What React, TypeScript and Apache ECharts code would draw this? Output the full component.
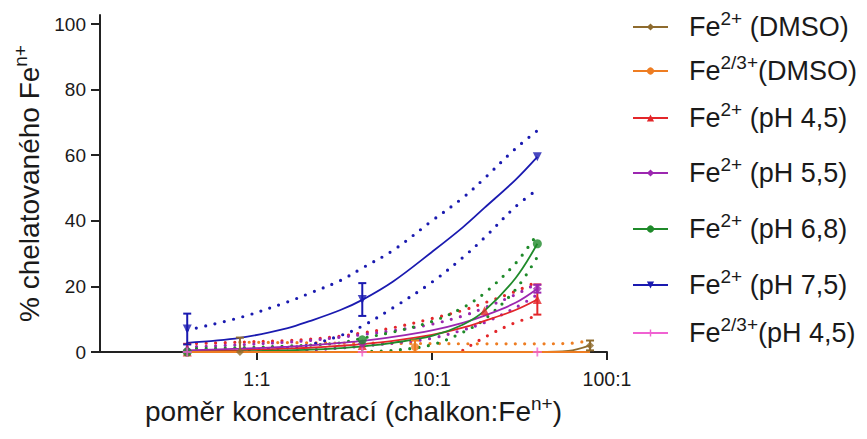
import React, { useEffect, useRef } from 'react';
import * as echarts from 'echarts';

const FONT = '"Liberation Sans", Arial, Helvetica, sans-serif';
const TXT = '#1a1a1a';

const seriesNames = ['Fe2+ (DMSO)', 'Fe2/3+(DMSO)', 'Fe2+ (pH 4,5)', 'Fe2+ (pH 5,5)', 'Fe2+ (pH 6,8)', 'Fe2+ (pH 7,5)', 'Fe2/3+(pH 4,5)'];
const nameSup = ['2+', '2/3+', '2+', '2+', '2+', '2+', '2/3+'];
const nameTail = [' (DMSO)', '(DMSO)', ' (pH 4,5)', ' (pH 5,5)', ' (pH 6,8)', ' (pH 7,5)', '(pH 4,5)'];
const colors = ['#8E6B2E', '#EE7D22', '#E3262A', '#9C27B0', '#1F8A2A', '#1A1AB0', '#F062D2'];
const symbols = ['diamond', 'circle', 'triangle', 'diamond', 'circle', 'triangle', 'path://M4,0h2v4h4v2h-4v4h-2v-4h-4v-2h4z'];
const symbolRot = [0, 0, 0, 0, 0, 180, 0];
const legendIconY = [27, 71, 118, 173, 229, 285, 333];

const xTicks = [1, 10, 100];
const xTickLabels = ['1:1', '10:1', '100:1'];
const yTicks = [0, 20, 40, 60, 80, 100];

// fitted curves & 95% bands (pH series)
const fitX = [0.4, 0.8, 1.5, 2, 3, 4, 6, 10, 15, 20, 30, 40];
const redFit = [0.3, 0.6, 1, 1.3, 1.9, 2.4, 3.4, 5.2, 7.4, 9.5, 12.8, 16];
const redUpper = [2.5, 3, 3.5, 3.9, 4.8, 5.8, 7.4, 10.2, 12.7, 15, 18.5, 21.5];
const redLower = [null, null, null, null, null, null, null, null, 0.5, 4.5, 9, 11];
const purpleFit = [0.5, 1, 1.6, 2, 2.8, 3.4, 4.6, 6.6, 8.9, 11.1, 15, 19.3];
const purpleUpper = [1.5, 2.2, 3, 3.5, 4.5, 5.3, 6.5, 8.5, 11, 13.5, 17.5, 21];
const purpleLower = [null, null, 0.3, 0.6, 1.2, 1.8, 2.7, 4.2, 6.7, 9, 13.5, 17.5];
const greenFit = [0, 0.2, 0.5, 0.7, 1.2, 1.7, 2.8, 4.9, 8.3, 12.6, 22.5, 33];
const greenUpper = [1, 1.3, 1.8, 2.1, 2.8, 4.2, 6.1, 9.3, 13.5, 18, 27, 36];
const greenLower = [null, null, null, null, null, 0.1, 0.5, 2.2, 6, 10, 19, 29];
const blueFit = [2.8, 4.3, 7.3, 9.4, 12.8, 15.9, 21.5, 30.5, 38, 44, 52.5, 59.5];
const blueUpper = [6.7, 10.5, 15.3, 17.9, 21.8, 25.6, 31, 40, 47, 53, 62, 67.5];
const blueLower = [null, 0.6, 1.3, 2.2, 5, 7.9, 13.5, 21.3, 28.8, 34.9, 44.3, 49.5];
const pinkFit = [0, 0, 0, 0, 0, 0, 0, 0, 0, 0, 0, 0];

// DMSO series
const dmsoX = [0.4, 0.8, 2, 4, 8, 20, 40, 60, 80];
const orangeFit = [0, 0, 0, 0, 0, 0, 0, 0, 0];
const orangeUpper = [null, 3, 2.8, 2.7, 2.6, 2.5, 2.5, 2.6, 3.5];
const brownFit = [null, 0, 0, 0, 0, 0, 0, 0.3, 2];

// measured points [x], [y], [error]
const brownPtX = [0.8, 80];
const brownPtY = [0, 2];
const brownPtE = [4.4, 1.5];
const orangePtX = [8];
const orangePtY = [1.5];
const orangePtE = [2];
const redPtX = [0.4, 4, 20, 40];
const redPtY = [0, 2, 12.6, 16];
const redPtE = [2.5, 0, 0, 4.6];
const purplePtX = [0.4, 4, 40];
const purplePtY = [0.5, 2.5, 19.3];
const purplePtE = [0, 0, 1.2];
const greenPtX = [0.4, 4, 40];
const greenPtY = [0, 3.7, 33];
const greenPtE = [0, 0, 0];
const bluePtX = [0.4, 4, 40];
const bluePtY = [7, 16, 59.5];
const bluePtE = [4.7, 5, 0];
const pinkPtX = [0.4, 4, 40];
const pinkPtY = [0, 0, 0];
const pinkPtE = [0, 0, 0];

const zip = (xs: number[], ys: (number | null)[]) => xs.map((x, k) => [x, ys[k]]);

function bandSeries(name: string, color: string, xs: number[], ys: (number | null)[]) {
  return {
    type: 'line', name, data: zip(xs, ys), smooth: 0.35, symbol: 'none', silent: true, z: 2,
    connectNulls: false,
    lineStyle: { color, width: 3.2, type: [0, 9.5], cap: 'round' },
  };
}

function fitSeries(i: number, xs: number[], ys: (number | null)[]) {
  return {
    type: 'line', name: seriesNames[i], data: zip(xs, ys), smooth: 0.35,
    symbol: symbols[i], symbolRotate: symbolRot[i], showSymbol: false, silent: true, z: 3,
    itemStyle: { color: colors[i] },
    lineStyle: { color: colors[i], width: 1.8 },
  };
}

function pointSeries(i: number, xs: number[], ys: number[], size: number) {
  return {
    type: 'scatter', name: seriesNames[i] + ' data', data: zip(xs, ys), symbol: symbols[i],
    symbolRotate: symbolRot[i], symbolSize: size, silent: true, z: 5,
    itemStyle: { color: colors[i] },
  };
}

function errSeries(i: number, xs: number[], ys: number[], es: number[]) {
  const color = colors[i];
  return {
    type: 'custom', name: seriesNames[i] + ' err', silent: true, z: 4,
    encode: { x: 0, y: 1 },
    data: xs.map((x, k) => [x, ys[k], es[k]]),
    renderItem: (params: any, api: any) => {
      const x = api.value(0);
      const y = api.value(1);
      const e = api.value(2);
      if (!e) return null;
      const lo = Math.max(y - e, 0);
      const top = api.coord([x, y + e]);
      const bot = api.coord([x, lo]);
      const hw = 4;
      const style = { stroke: color, lineWidth: 2 };
      const children: any[] = [
        { type: 'line', shape: { x1: top[0], y1: top[1], x2: bot[0], y2: bot[1] }, style },
        { type: 'line', shape: { x1: top[0] - hw, y1: top[1], x2: top[0] + hw, y2: top[1] }, style },
      ];
      if (y - e >= 0) {
        children.push({ type: 'line', shape: { x1: bot[0] - hw, y1: bot[1], x2: bot[0] + hw, y2: bot[1] }, style });
      }
      return { type: 'group', children };
    },
  };
}

const richText = (size: number, supSize: number, lh: number) => ({
  b: { fontSize: size, fontFamily: FONT, color: TXT, lineHeight: lh },
  s: { fontSize: supSize, fontFamily: FONT, color: TXT, lineHeight: supSize, verticalAlign: 'top' },
});

export default function App() {
  const ref = useRef<HTMLDivElement>(null);
  useEffect(() => {
    if (!ref.current) return;
    const chart = echarts.init(ref.current, undefined, { renderer: 'svg' });

    const series: any[] = [
      bandSeries('orange upper', colors[1], dmsoX, orangeUpper),
      bandSeries('red upper', colors[2], fitX, redUpper),
      bandSeries('red lower', colors[2], fitX, redLower),
      bandSeries('purple upper', colors[3], fitX, purpleUpper),
      bandSeries('purple lower', colors[3], fitX, purpleLower),
      bandSeries('green upper', colors[4], fitX, greenUpper),
      bandSeries('green lower', colors[4], fitX, greenLower),
      bandSeries('blue upper', colors[5], fitX, blueUpper),
      bandSeries('blue lower', colors[5], fitX, blueLower),
      fitSeries(0, dmsoX, brownFit),
      fitSeries(6, fitX, pinkFit),
      fitSeries(2, fitX, redFit),
      fitSeries(3, fitX, purpleFit),
      fitSeries(4, fitX, greenFit),
      fitSeries(5, fitX, blueFit),
      fitSeries(1, dmsoX, orangeFit),
      errSeries(0, brownPtX, brownPtY, brownPtE),
      errSeries(1, orangePtX, orangePtY, orangePtE),
      errSeries(2, redPtX, redPtY, redPtE),
      errSeries(3, purplePtX, purplePtY, purplePtE),
      errSeries(4, greenPtX, greenPtY, greenPtE),
      errSeries(5, bluePtX, bluePtY, bluePtE),
      errSeries(6, pinkPtX, pinkPtY, pinkPtE),
      pointSeries(0, brownPtX, brownPtY, 8),
      pointSeries(1, orangePtX, orangePtY, 8),
      pointSeries(2, redPtX, redPtY, 9),
      pointSeries(3, purplePtX, purplePtY, 9),
      pointSeries(4, greenPtX, greenPtY, 9),
      pointSeries(5, bluePtX, bluePtY, 9),
      pointSeries(6, pinkPtX, pinkPtY, 9),
    ];

    const legends = seriesNames.map((n, i) => ({
      data: [n],
      left: 632,
      top: legendIconY[i] - 18,
      padding: 0,
      itemWidth: 35,
      itemHeight: 9,
      selectedMode: false,
      formatter: () => `{b|Fe}{s|${nameSup[i]}}{b|${nameTail[i]}}`,
      textStyle: { padding: [0, 0, 0, 16], rich: richText(27, 19, 36) },
    }));

    chart.setOption({
      animation: false,
      backgroundColor: '#ffffff',
      grid: { left: 100, right: 260, top: 15, bottom: 87, containLabel: false, outerBoundsMode: 'none' },
      legend: legends,
      xAxis: {
        type: 'log',
        logBase: 10,
        min: 0.127,
        max: 100,
        name: '{b|poměr koncentrací (chalkon:Fe}{s|n+}{b|)}',
        nameLocation: 'middle',
        nameGap: 39,
        nameTextStyle: { rich: richText(28, 19, 36) },
        axisLine: { show: true, lineStyle: { color: '#222', width: 2 } },
        axisTick: { show: true, length: 8, lineStyle: { color: '#222', width: 2 }, customValues: xTicks },
        axisLabel: {
          customValues: xTicks,
          margin: 17,
          fontSize: 19.5,
          fontFamily: FONT,
          color: TXT,
          formatter: (v: number) => {
            const k = xTicks.findIndex((t) => Math.abs(t - v) < t * 1e-6);
            return k >= 0 ? xTickLabels[k] : '';
          },
        },
        splitLine: { show: false },
        minorTick: { show: false },
      },
      yAxis: {
        type: 'value',
        min: 0,
        max: 102.75,
        name: '{b|% chelatovaného Fe}{s|n+}',
        nameLocation: 'middle',
        nameGap: 52,
        nameTextStyle: { rich: richText(28, 19, 36) },
        axisLine: { show: true, lineStyle: { color: '#222', width: 2 } },
        axisTick: { show: true, length: 9, lineStyle: { color: '#222', width: 2 }, customValues: yTicks },
        axisLabel: { customValues: yTicks, margin: 14, fontSize: 19, fontFamily: FONT, color: TXT },
        splitLine: { show: false },
      },
      series,
    });
    return () => chart.dispose();
  }, []);
  return <div ref={ref} style={{ width: 867, height: 439, position: 'absolute', left: 0, top: 0 }} />;
}
